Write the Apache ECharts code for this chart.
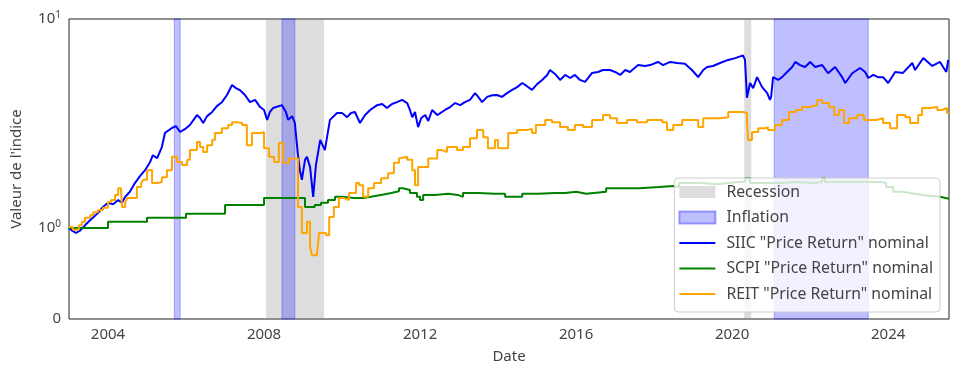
<!DOCTYPE html>
<html>
<head>
<meta charset="utf-8">
<script src="https://cdn.jsdelivr.net/npm/echarts@6/dist/echarts.min.js"></script>
<style>
  html, body { margin: 0; padding: 0; background: #fff; }
  #main { width: 958px; height: 378px; }
</style>
</head>
<body>
<div id="main"></div>
<script>
// valeurs (année décimale, indice base 1)
const siicYears = [2003.00,2003.08,2003.18,2003.28,2003.41,2003.54,2003.74,2003.87,2004.00,2004.13,
  2004.26,2004.36,2004.44,2004.56,2004.69,2004.82,2004.95,2005.08,2005.15,2005.26,
  2005.38,2005.46,2005.64,2005.74,2005.85,2005.97,2006.10,2006.28,2006.36,2006.44,
  2006.54,2006.67,2006.79,2006.92,2007.05,2007.18,2007.28,2007.38,2007.51,2007.64,
  2007.77,2007.90,2008.00,2008.08,2008.15,2008.23,2008.46,2008.56,2008.62,2008.72,
  2008.79,2008.87,2008.92,2008.97,2009.05,2009.10,2009.18,2009.26,2009.33,2009.44,
  2009.56,2009.69,2009.87,2010.00,2010.13,2010.23,2010.33,2010.46,2010.59,2010.72,
  2010.90,2011.03,2011.15,2011.28,2011.41,2011.54,2011.67,2011.74,2011.80,2011.87,
  2011.95,2012.03,2012.13,2012.21,2012.31,2012.44,2012.64,2012.77,2012.90,2013.03,
  2013.15,2013.28,2013.41,2013.49,2013.59,2013.72,2013.85,2013.97,2014.10,2014.23,
  2014.36,2014.49,2014.62,2014.74,2014.87,2015.00,2015.13,2015.26,2015.33,2015.46,
  2015.59,2015.72,2015.85,2015.97,2016.10,2016.23,2016.41,2016.56,2016.69,2016.87,
  2017.00,2017.13,2017.26,2017.38,2017.59,2017.77,2017.90,2018.10,2018.23,2018.41,
  2018.59,2018.79,2018.97,2019.13,2019.26,2019.36,2019.51,2019.69,2019.90,2020.08,
  2020.28,2020.33,2020.38,2020.46,2020.54,2020.64,2020.77,2020.90,2020.97,2021.00,
  2021.05,2021.18,2021.28,2021.41,2021.54,2021.62,2021.74,2021.87,2022.00,2022.13,
  2022.31,2022.46,2022.64,2022.82,2022.90,2023.08,2023.28,2023.41,2023.49,2023.62,
  2023.74,2023.87,2024.00,2024.18,2024.38,2024.62,2024.69,2024.90,2025.13,2025.33,
  2025.49,2025.54]
const siicValues = [1.00,0.97,0.945,0.97,1.03,1.09,1.18,1.26,1.32,1.30,
  1.36,1.32,1.41,1.49,1.64,1.77,1.89,2.07,2.23,2.16,
  2.44,2.85,3.01,3.07,2.88,2.97,3.11,3.47,3.36,3.18,
  3.43,3.59,3.83,4.00,4.33,4.83,4.67,4.57,4.33,4.00,
  4.10,3.79,3.67,3.29,3.59,3.75,3.87,3.59,3.29,3.43,
  3.18,2.23,1.89,1.70,2.12,2.19,1.96,1.41,2.00,2.64,
  2.36,3.29,3.55,3.55,3.39,3.55,3.59,3.18,3.47,3.67,
  3.87,3.92,3.75,3.92,4.00,4.10,3.96,3.67,3.39,3.59,
  3.04,3.36,3.47,3.25,3.67,3.47,3.67,3.79,3.96,3.87,
  4.00,4.10,4.42,4.24,4.00,4.24,4.32,4.33,4.24,4.42,
  4.58,4.72,4.94,4.77,4.58,4.88,5.11,5.40,5.70,5.46,
  5.11,5.40,5.22,5.40,5.11,5.00,5.52,5.58,5.70,5.70,
  5.58,5.40,5.70,5.58,6.02,5.96,6.02,6.23,6.02,6.23,
  6.16,6.10,5.70,5.27,5.70,5.89,5.96,6.16,6.37,6.50,
  6.70,6.37,4.20,4.94,4.67,5.27,4.72,4.42,4.10,4.24,
  5.27,5.11,5.27,5.58,5.89,6.23,6.02,5.89,6.23,5.89,
  6.02,5.50,5.89,5.27,4.94,5.50,5.83,5.58,5.22,5.40,
  5.27,5.27,4.94,5.58,5.52,6.16,5.70,6.50,5.96,6.23,
  5.58,6.37]

const scpiYears = [2003.00,2004.00,2005.00,2006.00,2007.00,2008.00,2009.05,2009.30,2009.46,2009.64,
  2009.82,2010.00,2010.05,2010.30,2010.54,2010.74,2011.00,2011.26,2011.46,2011.56,
  2011.74,2011.92,2012.00,2012.08,2012.38,2012.72,2012.97,2013.10,2013.49,2013.92,
  2014.18,2014.62,2015.03,2015.46,2015.72,2016.00,2016.26,2016.77,2017.28,2017.62,
  2018.13,2018.49,2018.64,2019.18,2019.62,2019.90,2020.33,2020.46,2020.85,2021.26,
  2021.67,2022.10,2022.31,2022.38,2023.00,2023.82,2023.95,2024.13,2024.38,2024.56,
  2024.87,2025.33,2025.56]
const scpiValues = [1.00,1.07,1.12,1.17,1.29,1.39,1.26,1.29,1.32,1.36,
  1.41,1.44,1.39,1.39,1.41,1.44,1.47,1.50,1.55,1.52,
  1.47,1.41,1.36,1.44,1.46,1.44,1.41,1.47,1.46,1.46,
  1.41,1.46,1.47,1.47,1.49,1.46,1.49,1.55,1.55,1.57,
  1.59,1.57,1.64,1.62,1.64,1.67,1.73,1.64,1.64,1.66,
  1.64,1.66,1.73,1.66,1.66,1.64,1.57,1.49,1.47,1.44,
  1.41,1.38,1.38]

const reitYears = [2003.00,2003.10,2003.25,2003.33,2003.41,2003.54,2003.62,2003.74,2003.87,2004.00,
  2004.08,2004.18,2004.26,2004.33,2004.36,2004.44,2004.49,2004.74,2004.85,2004.90,
  2005.00,2005.13,2005.26,2005.38,2005.51,2005.64,2005.77,2005.90,2006.03,2006.10,
  2006.28,2006.36,2006.44,2006.54,2006.67,2006.74,2006.92,2007.08,2007.18,2007.31,
  2007.44,2007.56,2007.69,2007.92,2008.00,2008.13,2008.26,2008.38,2008.49,2008.64,
  2008.87,2008.97,2009.10,2009.18,2009.23,2009.36,2009.41,2009.59,2009.67,2009.79,
  2009.92,2010.05,2010.18,2010.36,2010.44,2010.54,2010.67,2010.82,2011.00,2011.18,
  2011.33,2011.46,2011.51,2011.67,2011.80,2011.87,2011.95,2012.21,2012.44,2012.56,
  2012.69,2012.95,2013.10,2013.28,2013.46,2013.62,2013.74,2013.92,2014.00,2014.26,
  2014.49,2014.74,2014.87,2014.97,2015.21,2015.38,2015.59,2015.79,2015.97,2016.18,
  2016.41,2016.69,2016.87,2017.05,2017.31,2017.56,2017.82,2018.21,2018.33,2018.49,
  2018.72,2019.13,2019.26,2019.69,2019.90,2020.28,2020.38,2020.41,2020.51,2020.67,
  2020.85,2020.92,2021.10,2021.28,2021.46,2021.64,2021.79,2021.97,2022.18,2022.31,
  2022.49,2022.62,2022.74,2022.87,2023.00,2023.21,2023.38,2023.69,2023.87,2024.05,
  2024.23,2024.44,2024.56,2024.77,2024.87,2025.08,2025.26,2025.38,2025.51,2025.56]
const reitValues = [1.01,0.98,1.03,1.07,1.12,1.15,1.19,1.22,1.25,1.33,
  1.36,1.44,1.55,1.52,1.26,1.32,1.39,1.57,1.64,1.70,
  1.89,1.64,1.66,1.75,1.89,2.19,2.07,2.00,2.12,2.36,
  2.58,2.44,2.31,2.49,2.64,2.85,3.00,3.11,3.21,3.18,
  3.11,2.49,2.85,2.88,2.41,2.19,2.07,2.55,2.05,2.15,
  1.26,0.945,1.07,0.79,0.70,0.725,0.945,0.92,1.13,1.26,
  1.39,1.36,1.47,1.64,1.60,1.41,1.55,1.64,1.73,1.83,
  2.05,2.15,2.19,2.12,1.89,1.60,1.96,2.15,2.36,2.31,
  2.44,2.36,2.44,2.69,2.94,2.72,2.41,2.64,2.41,2.85,
  2.94,2.98,2.85,3.11,3.29,3.21,3.04,2.94,3.11,3.04,
  3.29,3.47,3.35,3.18,3.29,3.21,3.29,3.21,2.94,3.11,
  3.29,3.04,3.35,3.39,3.59,3.55,3.29,2.64,2.88,3.00,
  3.04,2.94,3.11,3.29,3.59,3.67,3.79,3.87,4.10,3.96,
  3.79,3.47,3.67,3.18,3.35,3.47,3.29,3.35,3.18,3.00,
  3.47,3.39,3.18,3.47,3.75,3.79,3.67,3.75,3.55,3.55]

const recessions = [[2008.05, 2009.54], [2020.31, 2020.49]]
const inflations = [[2005.70, 2005.85], [2008.46, 2008.79], [2021.08, 2023.49]]
const xTicks = [2004, 2008, 2012, 2016, 2020, 2024]

// échelle "symlog" (linéaire entre 0 et 1, log au-dessus)
const LIN = 91 / 209
function symlog(v) { return v <= 1 ? v * LIN : LIN + Math.log10(v) }
function pairs(xs, vs) { return xs.map((x, i) => [x, symlog(vs[i])]) }

const textColor = '#444'
const font = 'Noto Sans'
const lineIcon = 'path://M0,0H34V2H0Z'

let myChart = echarts.init(document.getElementById('main'))

myChart.setOption({
  animation: false,
  textStyle: { fontFamily: font },
  grid: {
    left: 69, right: 9, top: 19, bottom: 59,
    show: true, borderColor: '#222', borderWidth: 1, backgroundColor: 'transparent'
  },
  legend: {
    orient: 'vertical',
    right: 18, bottom: 66,
    padding: [6, 7, 10, 4],
    itemGap: 9.5,
    itemWidth: 36, itemHeight: 12,
    backgroundColor: 'rgba(255,255,255,0.8)',
    borderColor: '#ccc', borderWidth: 1, borderRadius: 4,
    textStyle: { fontSize: 15.8, color: textColor, fontFamily: font, padding: [0, 0, 0, 6] },
    data: [
      { name: 'Recession', icon: 'rect' },
      { name: 'Inflation', icon: 'rect' },
      { name: 'SIIC "Price Return" nominal', icon: lineIcon },
      { name: 'SCPI "Price Return" nominal', icon: lineIcon },
      { name: 'REIT "Price Return" nominal', icon: lineIcon }
    ]
  },
  xAxis: {
    type: 'value',
    min: 2003, max: 2025.56,
    name: 'Date',
    nameLocation: 'middle',
    nameGap: 30,
    nameTextStyle: { fontSize: 15, color: textColor },
    axisLine: { show: false },
    axisTick: { show: false },
    splitLine: { show: false },
    axisLabel: {
      customValues: xTicks,
      fontSize: 15, color: textColor, margin: 8,
      formatter: v => String(v)
    }
  },
  yAxis: {
    type: 'value',
    min: 0, max: LIN + 1,
    name: "Valeur de l'indice",
    nameLocation: 'middle',
    nameGap: 45,
    nameTextStyle: { fontSize: 15, color: textColor },
    axisLine: { show: false },
    axisTick: { show: false },
    splitLine: { show: false },
    axisLabel: {
      customValues: [0, LIN, LIN + 1],
      fontSize: 15, color: textColor, margin: 8,
      formatter: v => {
        if (v < 0.01) return '0'
        const e = Math.round(v - LIN)
        return '{b|10}{s|' + e + '}'
      },
      rich: {
        b: { fontSize: 15, color: textColor },
        s: { fontSize: 10, color: textColor, padding: [0, 0, 8, 0] }
      }
    }
  },
  series: [
    {
      name: 'Recession', type: 'line', data: [],
      itemStyle: { color: 'rgba(128,128,128,0.27)' },
      markArea: {
        silent: true,
        itemStyle: { color: 'rgba(128,128,128,0.27)' },
        data: recessions.map(r => [{ xAxis: r[0] }, { xAxis: r[1] }])
      }
    },
    {
      name: 'Inflation', type: 'line', data: [],
      itemStyle: { color: 'rgba(0,0,255,0.25)', borderColor: 'rgba(0,0,255,0.35)', borderWidth: 1 },
      markArea: {
        silent: true,
        itemStyle: { color: 'rgba(0,0,255,0.25)', borderColor: 'rgba(0,0,255,0.3)', borderWidth: 1 },
        data: inflations.map(r => [{ xAxis: r[0] }, { xAxis: r[1] }])
      }
    },
    {
      name: 'SIIC "Price Return" nominal', type: 'line',
      data: pairs(siicYears, siicValues),
      symbol: 'none', color: '#0000ff',
      lineStyle: { width: 2, color: '#0000ff' }
    },
    {
      name: 'SCPI "Price Return" nominal', type: 'line', step: 'end',
      data: pairs(scpiYears, scpiValues),
      symbol: 'none', color: '#008000',
      lineStyle: { width: 2, color: '#008000' }
    },
    {
      name: 'REIT "Price Return" nominal', type: 'line', step: 'end',
      data: pairs(reitYears, reitValues),
      symbol: 'none', color: '#ffa500',
      lineStyle: { width: 2, color: '#ffa500' }
    }
  ]
})
</script>
</body>
</html>
